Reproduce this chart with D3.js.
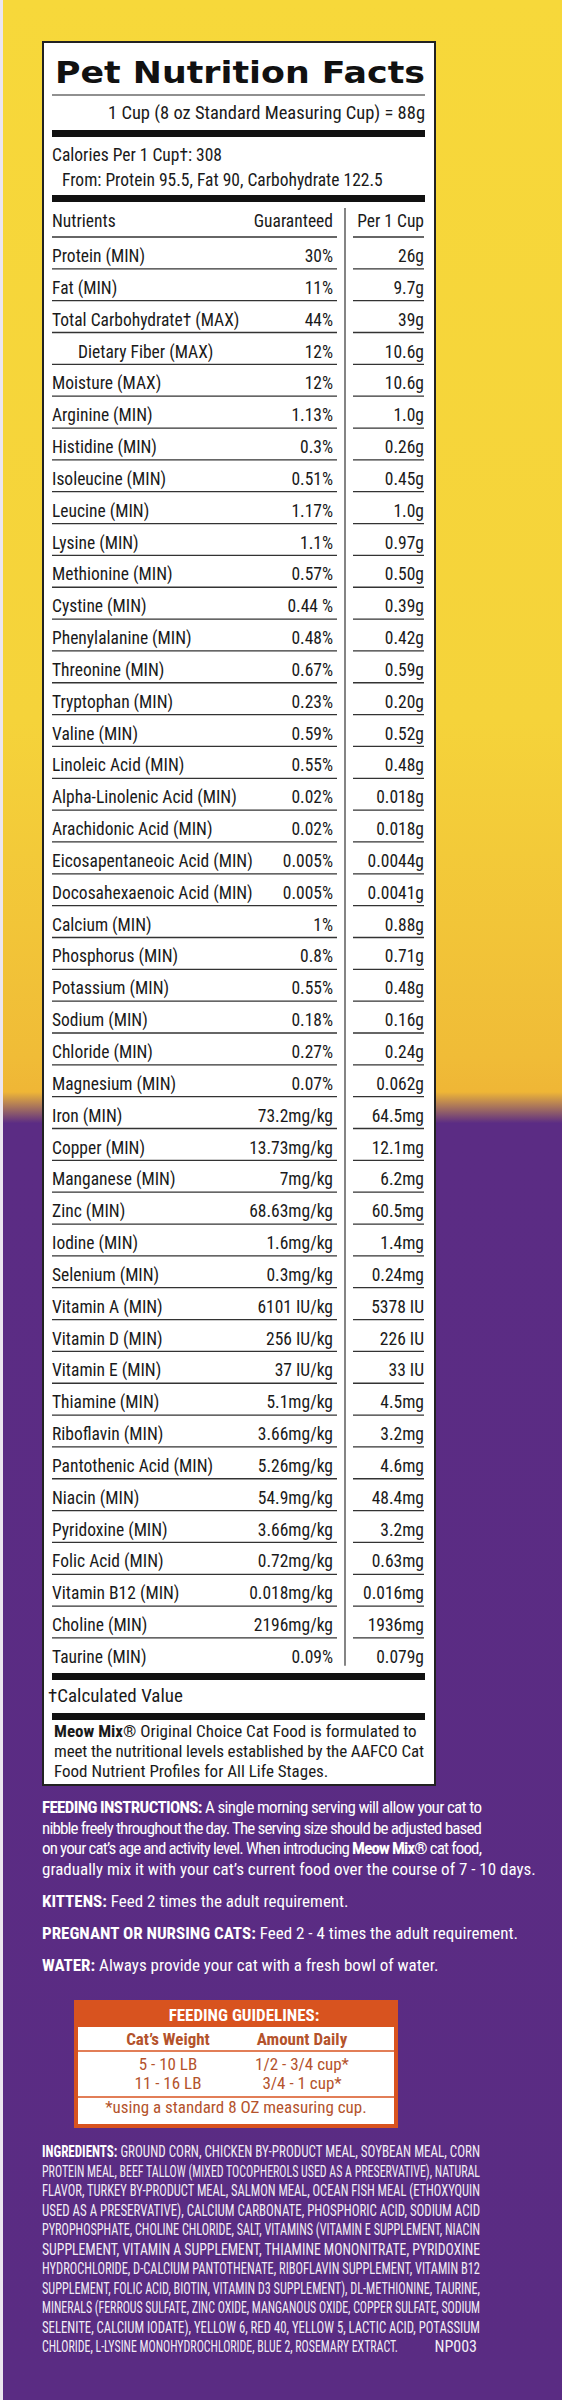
<!DOCTYPE html>
<html><head><meta charset="utf-8">
<script src="https://cdn.jsdelivr.net/npm/d3@7"></script>
<style>body{margin:0;background:#fff}svg{display:block}</style>
</head><body>
<script>
const nutrients = ["Protein (MIN)","Fat (MIN)","Total Carbohydrate† (MAX)","Dietary Fiber (MAX)","Moisture (MAX)","Arginine (MIN)","Histidine (MIN)","Isoleucine (MIN)","Leucine (MIN)","Lysine (MIN)","Methionine (MIN)","Cystine (MIN)","Phenylalanine (MIN)","Threonine (MIN)","Tryptophan (MIN)","Valine (MIN)","Linoleic Acid (MIN)","Alpha-Linolenic Acid (MIN)","Arachidonic Acid (MIN)","Eicosapentaneoic Acid (MIN)","Docosahexaenoic Acid (MIN)","Calcium (MIN)","Phosphorus (MIN)","Potassium (MIN)","Sodium (MIN)","Chloride (MIN)","Magnesium (MIN)","Iron (MIN)","Copper (MIN)","Manganese (MIN)","Zinc (MIN)","Iodine (MIN)","Selenium (MIN)","Vitamin A (MIN)","Vitamin D (MIN)","Vitamin E (MIN)","Thiamine (MIN)","Riboflavin (MIN)","Pantothenic Acid (MIN)","Niacin (MIN)","Pyridoxine (MIN)","Folic Acid (MIN)","Vitamin B12 (MIN)","Choline (MIN)","Taurine (MIN)"];
const guaranteed = ["30%","11%","44%","12%","12%","1.13%","0.3%","0.51%","1.17%","1.1%","0.57%","0.44 %","0.48%","0.67%","0.23%","0.59%","0.55%","0.02%","0.02%","0.005%","0.005%","1%","0.8%","0.55%","0.18%","0.27%","0.07%","73.2mg/kg","13.73mg/kg","7mg/kg","68.63mg/kg","1.6mg/kg","0.3mg/kg","6101 IU/kg","256 IU/kg","37 IU/kg","5.1mg/kg","3.66mg/kg","5.26mg/kg","54.9mg/kg","3.66mg/kg","0.72mg/kg","0.018mg/kg","2196mg/kg","0.09%"];
const perCup = ["26g","9.7g","39g","10.6g","10.6g","1.0g","0.26g","0.45g","1.0g","0.97g","0.50g","0.39g","0.42g","0.59g","0.20g","0.52g","0.48g","0.018g","0.018g","0.0044g","0.0041g","0.88g","0.71g","0.48g","0.16g","0.24g","0.062g","64.5mg","12.1mg","6.2mg","60.5mg","1.4mg","0.24mg","5378 IU","226 IU","33 IU","4.5mg","3.2mg","4.6mg","48.4mg","3.2mg","0.63mg","0.016mg","1936mg","0.079g"];
const indented = ["Dietary Fiber (MAX)"];
const feedLines = [
 [["FEEDING INSTRUCTIONS:",1],[" A single morning serving will allow your cat to",0]],
 [["nibble freely throughout the day. The serving size should be adjusted based",0]],
 [["on your cat’s age and activity level. When introducing ",0],["Meow Mix®",1],[" cat food,",0]],
 [["gradually mix it with your cat’s current food over the course of 7 - 10 days.",0]]
];
const extraLines = [
 [["KITTENS:",1],[" Feed 2 times the adult requirement.",0]],
 [["PREGNANT OR NURSING CATS:",1],[" Feed 2 - 4 times the adult requirement.",0]],
 [["WATER:",1],[" Always provide your cat with a fresh bowl of water.",0]]
];
const guideWeights = ["5 - 10 LB","11 - 16 LB"];
const guideAmounts = ["1/2 - 3/4 cup*","3/4 - 1 cup*"];
const ingredientLines = [
 "GROUND CORN, CHICKEN BY-PRODUCT MEAL, SOYBEAN MEAL, CORN",
 "PROTEIN MEAL, BEEF TALLOW (MIXED TOCOPHEROLS USED AS A PRESERVATIVE), NATURAL",
 "FLAVOR, TURKEY BY-PRODUCT MEAL, SALMON MEAL, OCEAN FISH MEAL (ETHOXYQUIN",
 "USED AS A PRESERVATIVE), CALCIUM CARBONATE, PHOSPHORIC ACID, SODIUM ACID",
 "PYROPHOSPHATE, CHOLINE CHLORIDE, SALT, VITAMINS (VITAMIN E SUPPLEMENT, NIACIN",
 "SUPPLEMENT, VITAMIN A SUPPLEMENT, THIAMINE MONONITRATE, PYRIDOXINE",
 "HYDROCHLORIDE, D-CALCIUM PANTOTHENATE, RIBOFLAVIN SUPPLEMENT, VITAMIN B12",
 "SUPPLEMENT, FOLIC ACID, BIOTIN, VITAMIN D3 SUPPLEMENT), DL-METHIONINE, TAURINE,",
 "MINERALS (FERROUS SULFATE, ZINC OXIDE, MANGANOUS OXIDE, COPPER SULFATE, SODIUM",
 "SELENITE, CALCIUM IODATE), YELLOW 6, RED 40, YELLOW 5, LACTIC ACID, POTASSIUM",
 "CHLORIDE, L-LYSINE MONOHYDROCHLORIDE, BLUE 2, ROSEMARY EXTRACT."
];

const W=562,H=2400;
const F="'Liberation Sans Narrow','Roboto Condensed','Liberation Sans',sans-serif";
const svg=d3.select("body").append("svg").attr("width",W).attr("height",H);
const defs=svg.append("defs");
const g=defs.append("linearGradient").attr("id","bg").attr("x1",0).attr("x2",0).attr("y1",0).attr("y2",1);
[[0,"#f7d83a"],[0.3,"#f5d33a"],[0.44,"#f0bc37"],[0.455,"#efb636"],[0.468,"#5b2c84"],[1,"#5a2c83"]].forEach(s=>g.append("stop").attr("offset",s[0]).attr("stop-color",s[1]));
svg.append("rect").attr("width",W).attr("height",H).attr("fill","url(#bg)");
svg.append("rect").attr("x",0).attr("width",3).attr("height",H).attr("fill","#ece6ef");

const bx0=43,bx1=435;
svg.append("rect").attr("x",bx0).attr("y",42).attr("width",bx1-bx0).attr("height",1785-42).attr("fill","#fff").attr("stroke","#222").attr("stroke-width",2);
const L=52,R=425;
svg.append("text").attr("x",55).attr("y",83).attr("font-family","'DejaVu Sans',sans-serif").attr("font-weight",900).attr("font-size",31).attr("textLength",370).attr("lengthAdjust","spacingAndGlyphs").attr("fill","#111").text("Pet Nutrition Facts");
svg.append("line").attr("x1",L).attr("x2",R).attr("y1",95).attr("y2",95).attr("stroke","#222").attr("stroke-width",1.2);
const t=(x,y,s,sz,anchor,w)=>svg.append("text").attr("x",x).attr("y",y).attr("font-family",F).attr("font-size",sz||17.5).attr("text-anchor",anchor||"start").attr("font-weight",w||400).attr("fill","#1a1a1a").text(s);
t(R,119,"1 Cup (8 oz Standard Measuring Cup) = 88g",18.5,"end");
const bar=(y,h)=>svg.append("rect").attr("x",L).attr("width",R-L).attr("y",y).attr("height",h).attr("fill","#111");
bar(130,7);
t(L,161,"Calories Per 1 Cup†: 308",17.5);
t(62,186,"From: Protein 95.5, Fat 90, Carbohydrate 122.5",17.5);
bar(195,7);
t(L,227,"Nutrients",17.5); t(333,227,"Guaranteed",17.5,"end"); t(424,227,"Per 1 Cup",17.5,"end");
const cx0=L,cx1=337,dx0=353,dx1=424,divX=345;
const y=d3.scaleBand().domain(nutrients).range([237,237+31.84*nutrients.length]);
const rows=svg.append("g").selectAll("g").data(nutrients).join("g").attr("transform",d=>`translate(0,${y(d)})`);
rows.append("line").attr("x1",cx0).attr("x2",cx1).attr("stroke","#333").attr("stroke-width",1.3);
rows.append("line").attr("x1",dx0).attr("x2",dx1).attr("stroke","#333").attr("stroke-width",1.3);
rows.append("text").attr("x",d=>indented.includes(d)?L+26:L).attr("y",25).attr("font-family",F).attr("font-size",17.5).attr("fill","#1a1a1a").text(d=>d);
rows.append("text").attr("x",333).attr("y",25).attr("text-anchor","end").attr("font-family",F).attr("font-size",17.5).attr("fill","#1a1a1a").text((d,i)=>guaranteed[i]);
rows.append("text").attr("x",424).attr("y",25).attr("text-anchor","end").attr("font-family",F).attr("font-size",17.5).attr("fill","#1a1a1a").text((d,i)=>perCup[i]);
svg.append("line").attr("x1",divX).attr("x2",divX).attr("y1",208).attr("y2",y(nutrients[nutrients.length-1])+y.bandwidth()-4).attr("stroke","#333").attr("stroke-width",1.2);
bar(1673,7);
t(48,1702,"†Calculated Value",19);
bar(1713,7);
const m=svg.append("text").attr("x",54).attr("font-family",F).attr("font-size",17).attr("fill","#1a1a1a");
m.append("tspan").attr("y",1737).attr("font-weight",700).text("Meow Mix");
m.append("tspan").text("® Original Choice Cat Food is formulated to");
t(54,1757,"meet the nutritional levels established by the AAFCO Cat",17).attr("textLength",370).attr("lengthAdjust","spacing");
t(54,1777,"Food Nutrient Profiles for All Life Stages.",17);

function rich(parts,x,yy,len){
  const tx=svg.append("text").attr("x",x).attr("y",yy).attr("font-family",F).attr("font-size",17).attr("fill","#fff");
  if(len) tx.attr("textLength",len).attr("lengthAdjust","spacing");
  parts.forEach(p=>tx.append("tspan").attr("font-weight",p[1]?700:400).text(p[0]));
}
feedLines.forEach((p,i)=>rich(p,42,1813+i*20.5,i<3?440:null));
extraLines.forEach((p,i)=>rich(p,42,1907+i*32));

svg.append("rect").attr("x",74).attr("y",2000).attr("width",324).attr("height",128).attr("fill","#d8531f");
svg.append("rect").attr("x",78).attr("y",2027).attr("width",316).attr("height",97).attr("fill","#fff");
svg.append("text").attr("x",244).attr("y",2021).attr("text-anchor","middle").attr("font-family",F).attr("font-weight",700).attr("font-size",17).attr("fill","#fff").text("FEEDING GUIDELINES:");
const oc="#b4532c";
const col=d3.scalePoint().domain(["w","a"]).range([168,302]);
const ot=(x,yy,s,w)=>svg.append("text").attr("x",x).attr("y",yy).attr("text-anchor","middle").attr("font-family",F).attr("font-size",17).attr("font-weight",w||400).attr("fill",oc).text(s);
ot(col("w"),2045,"Cat’s Weight",700); ot(col("a"),2045,"Amount Daily",700);
svg.append("line").attr("x1",78).attr("x2",394).attr("y1",2051).attr("y2",2051).attr("stroke","#d8531f").attr("stroke-width",1.5);
guideWeights.forEach((w,i)=>{ot(col("w"),2070+i*19,w);ot(col("a"),2070+i*19,guideAmounts[i]);});
svg.append("line").attr("x1",78).attr("x2",394).attr("y1",2097).attr("y2",2097).attr("stroke","#d8531f").attr("stroke-width",1.5);
ot(236,2113,"*using a standard 8 OZ measuring cup.");

ingredientLines.forEach((s,i)=>{
  const last=i===ingredientLines.length-1;
  const tx=svg.append("text").attr("x",42).attr("y",2157+i*19.5).attr("font-family",F).attr("font-size",16).attr("fill","#f3eef7")
    .attr("textLength",last?356:438).attr("lengthAdjust","spacingAndGlyphs");
  if(i===0){tx.append("tspan").attr("font-weight",700).attr("fill","#fff").text("INGREDIENTS: ");}
  tx.append("tspan").text(s);
});
svg.append("text").attr("x",477).attr("y",2157+10*19.5).attr("text-anchor","end").attr("font-family",F).attr("font-size",16).attr("fill","#f3eef7").text("NP003");
</script>
</body></html>
